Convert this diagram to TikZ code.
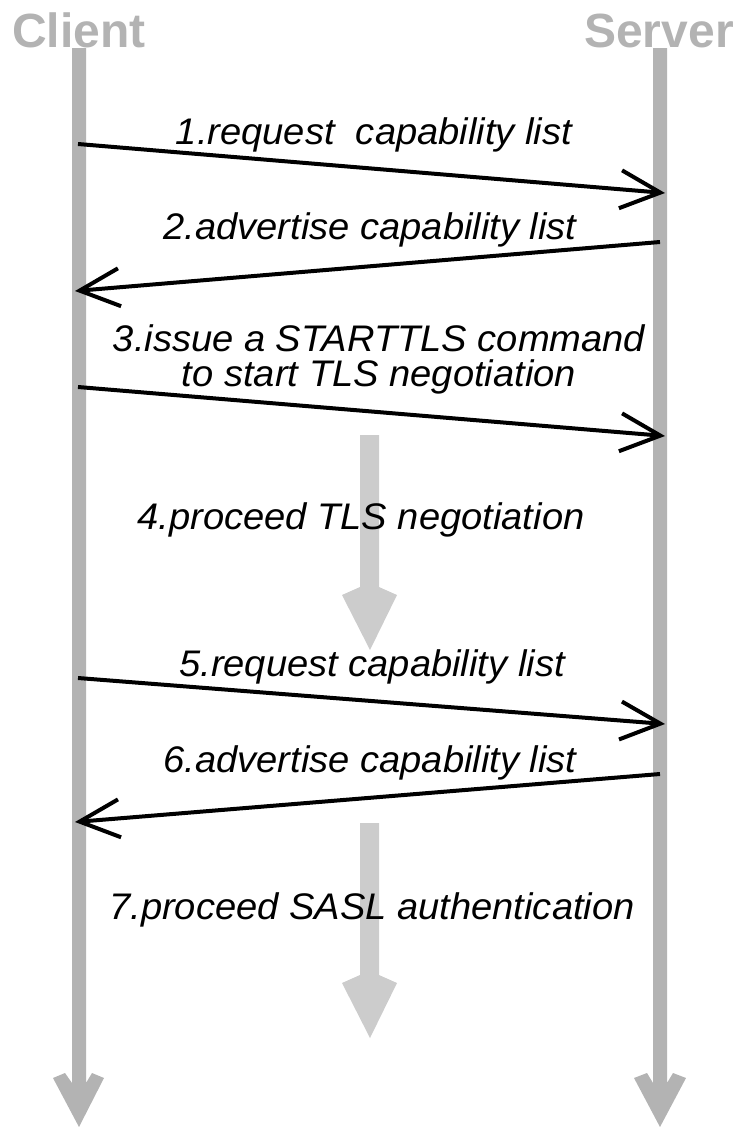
\documentclass[tikz,border=0pt]{standalone}
\usepackage{fontspec}
\setmainfont{Liberation Sans}
\newfontfamily\msgfont{Liberation Sans}[FakeStretch=1.03]
\usetikzlibrary{arrows.meta}

\definecolor{lifegray}{HTML}{B3B3B3}
\definecolor{phasegray}{HTML}{CCCCCC}

\tikzset{
  lifeline/.style={fill=lifegray},
  phase/.style={fill=phasegray},
  party/.style={anchor=base, inner sep=0pt, text=lifegray,
    font=\fontsize{48}{56}\selectfont\bfseries},
  msglabel/.style={anchor=base, inner sep=0pt, align=center,
    font=\msgfont\itshape\fontsize{37}{35}\selectfont},
  msg/.style={line width=4pt, line cap=butt,
    -{Straight Barb[sharp,length=40pt,width=38pt]}}
}

\begin{document}
\begin{tikzpicture}[x=1pt,y=-1pt]
  \useasboundingbox (0,0) rectangle (738,1127);

  % party headers
  \node[party] (client) at (79,47) {Client};
  \node[party] (server) at (659,47) {Server};

  % lifelines with fat arrow heads
  \fill[lifeline] (72,48) -- (86,48) -- (86,1083) -- (92,1073) -- (104,1078)
    -- (79,1127) -- (53,1078) -- (65,1073) -- (72,1083) -- cycle;
  \fill[lifeline] (653,48) -- (667,48) -- (667,1083) -- (673,1073) -- (686,1078)
    -- (660,1127) -- (634,1078) -- (647,1073) -- (653,1083) -- cycle;

  % phases handled without messages
  \fill[phase] (360,435) -- (379,435) -- (379,587) -- (397,595) -- (370,650)
    -- (342,595) -- (360,587) -- cycle;
  \fill[phase] (360,823) -- (379,823) -- (379,975) -- (397,983) -- (370,1038)
    -- (342,983) -- (360,975) -- cycle;

  % message end points
  \coordinate (c1) at (78,144);  \coordinate (s1) at (665,193);
  \coordinate (s2) at (660,242); \coordinate (c2) at (75,291);
  \coordinate (c3) at (78,387);  \coordinate (s3) at (665,436);
  \coordinate (c5) at (78,678);  \coordinate (s5) at (665,724);
  \coordinate (s6) at (660,774); \coordinate (c6) at (75,822);

  % messages
  \draw[msg] (c1) -- (s1);
  \draw[msg] (s2) -- (c2);
  \draw[msg] (c3) -- (s3);
  \draw[msg] (c5) -- (s5);
  \draw[msg] (s6) -- (c6);

  % labels (a multi-line label sits on the baseline of its last line)
  \node[msglabel] (l1) at (374,144) {1.request\ \ capability list};
  \node[msglabel] (l2) at (370,239) {2.advertise capability list};
  \node[msglabel] (l3) at (379,386) {3.issue a STARTTLS command\\to start TLS negotiation};
  \node[msglabel] (l4) at (361,529) {4.proceed TLS negotiation};
  \node[msglabel] (l5) at (372,676) {5.request capability list};
  \node[msglabel] (l6) at (370,772) {6.advertise capability list};
  \node[msglabel] (l7) at (372,919) {7.proceed SASL authentication};
\end{tikzpicture}
\end{document}
